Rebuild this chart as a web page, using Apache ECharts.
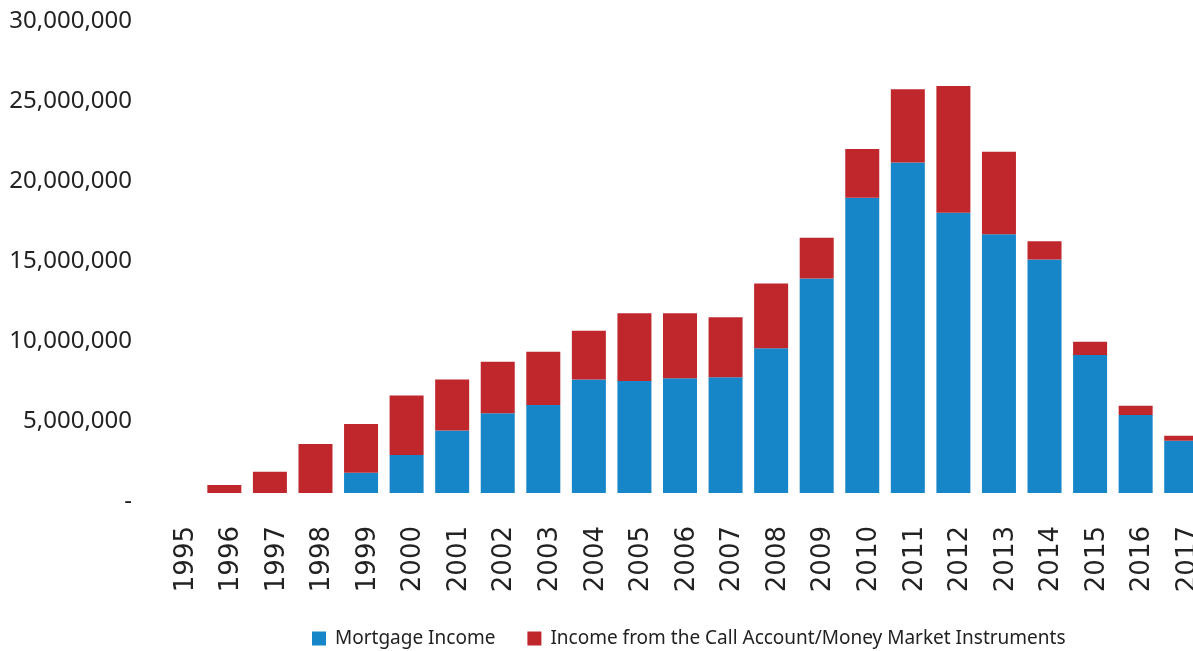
<!DOCTYPE html>
<html>
<head>
<meta charset="utf-8">
<title>Income by Year</title>
<script src="https://cdn.jsdelivr.net/npm/echarts@6/dist/echarts.min.js"></script>
<style>
  html, body { margin: 0; padding: 0; background: #ffffff; overflow: hidden; }
  #chart { width: 1210px; height: 651px; }
</style>
</head>
<body>
<div id="chart"></div>
<script>
// Financial years on the category axis
var years = ['1995', '1996', '1997', '1998', '1999', '2000', '2001', '2002', '2003', '2004', '2005', '2006',
             '2007', '2008', '2009', '2010', '2011', '2012', '2013', '2014', '2015', '2016', '2017'];

// Mortgage income per year
var mortgageIncome = [0, 0, 0, 0, 1270000, 2370000, 3900000, 4980000, 5500000, 7100000, 7000000, 7170000,
                      7230000, 9040000, 13400000, 18460000, 20650000, 17520000, 16170000, 14600000, 8630000, 4880000, 3270000];

// Income from the call account / money market instruments per year
var callAccountIncome = [0, 500000, 1330000, 3060000, 3040000, 3730000, 3200000, 3220000, 3330000, 3040000, 4230000, 4060000,
                         3750000, 4060000, 2560000, 3040000, 4580000, 7920000, 5160000, 1130000, 830000, 580000, 310000];

// Value axis ticks
var yMin = 0, yMax = 30000000, yStep = 5000000;

var seriesNames = ['Mortgage Income', 'Income from the Call Account/Money Market Instruments'];
var seriesColors = ['#1786c8', '#bf272d'];

function formatTick(v) {
  if (v === 0) return '-';
  return v.toString().replace(/\B(?=(\d{3})+(?!\d))/g, ',');
}

var chart = echarts.init(document.getElementById('chart'), null, { renderer: 'canvas' });

chart.setOption({
  backgroundColor: '#ffffff',
  animation: false,
  textStyle: { fontFamily: 'Noto Sans' },
  grid: { left: 156, top: 13, width: 1048, height: 480, containLabel: false },
  legend: {
    left: 307,
    top: 624,
    itemWidth: 14,
    itemHeight: 14,
    itemGap: 32,
    icon: 'rect',
    textStyle: { fontFamily: 'Noto Sans', fontSize: 19, color: '#222222', padding: [0, 0, 0, 4] },
    data: seriesNames
  },
  xAxis: {
    type: 'category',
    data: years,
    axisLine: { show: false },
    axisTick: { show: false },
    axisLabel: {
      interval: 0,
      rotate: 90,
      margin: 33,
      fontFamily: 'DejaVu Sans',
      fontSize: 26,
      color: '#222222',
      verticalAlign: 'top',
      lineHeight: 14
    }
  },
  yAxis: {
    type: 'value',
    min: yMin,
    max: yMax,
    interval: yStep,
    splitLine: { show: false },
    axisLine: { show: false },
    axisTick: { show: false },
    axisLabel: {
      margin: 24,
      fontFamily: 'Noto Sans',
      fontSize: 24,
      color: '#222222',
      verticalAlign: 'top',
      lineHeight: 16,
      formatter: formatTick
    }
  },
  series: [
    {
      name: seriesNames[0],
      type: 'bar',
      stack: 'income',
      barWidth: 34,
      itemStyle: { color: seriesColors[0] },
      data: mortgageIncome
    },
    {
      name: seriesNames[1],
      type: 'bar',
      stack: 'income',
      barWidth: 34,
      itemStyle: { color: seriesColors[1] },
      data: callAccountIncome
    }
  ]
});
</script>
</body>
</html>
